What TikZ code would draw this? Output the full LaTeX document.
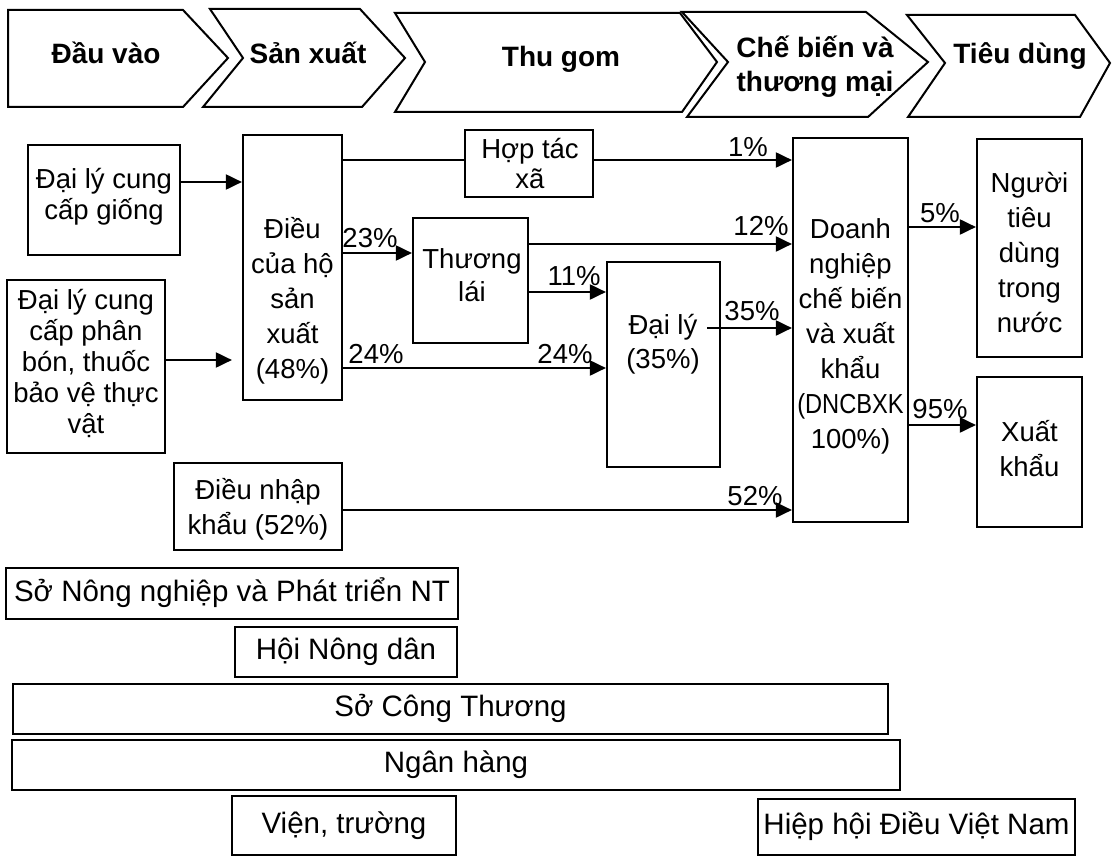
\documentclass[tikz,border=0pt]{standalone}
\usepackage{fontspec}
\usepackage{graphicx}
\setmainfont{Liberation Sans}
\usetikzlibrary{arrows.meta}
\begin{document}
\begin{tikzpicture}[x=1pt,y=-1pt,
  box/.style={draw, line width=2.2pt, inner sep=0pt},
  txt/.style={align=center, inner sep=0pt, font=\fontsize{27.5}{#1}\selectfont},
  txt/.default=35,
  btxt/.style={inner sep=0pt, font=\fontsize{29.5}{35}\selectfont, text height=21pt, text depth=6pt},
  ttl/.style={align=center, inner sep=0pt, font=\bfseries\fontsize{28}{34}\selectfont},
  pct/.style={inner sep=0pt, font=\fontsize{27.5}{33}\selectfont},
  arr/.style={line width=2pt, -{Triangle[length=16pt,width=15pt]}},
  ln/.style={line width=2pt},
  chev/.style={draw, line width=2pt, line join=miter}]
\useasboundingbox (0,0) rectangle (1115,856);
\fill[white] (0,0) rectangle (1115,856);

% chevrons
\draw[chev] (8,10) -- (183,10) -- (228,58) -- (183,107) -- (8,107) -- cycle;
\node[ttl, anchor=base] (t1) at (106,64) {Đầu vào};
\draw[chev] (210,9) -- (360,9) -- (405,58) -- (362,107) -- (203,107) -- (243,58) -- cycle;
\node[ttl, anchor=base] (t2) at (308,64) {Sản xuất};
\draw[chev] (395,13) -- (680,13) -- (717,62) -- (682,112) -- (395,112) -- (425,62) -- cycle;
\node[ttl, anchor=base] (t3) at (561,67) {Thu gom};
\draw[chev] (682,12) -- (866,12) -- (928,62) -- (868,117) -- (687,117) -- (728,62) -- cycle;
\node[ttl] (t4) at (815,68) {\strut Chế biến và\\\strut thương mại};
\draw[chev] (907,15) -- (1075,15) -- (1110,63) -- (1080,117) -- (908,117) -- (945,63) -- cycle;
\node[ttl, anchor=base] (t5) at (1020,64) {Tiêu dùng};

% boxes
\node[box, minimum width=152pt, minimum height=110pt] (giong) at (104,200) {};
\node[txt=31] (giongT) at (104,197.5) {\strut Đại lý cung\\\strut cấp giống};
\node[box, minimum width=158pt, minimum height=173pt] (phanbon) at (86,366.5) {};
\node[txt=31] (phanbonT) at (86,365) {\strut Đại lý cung\\\strut cấp phân\\\strut bón, thuốc\\\strut bảo vệ thực\\\strut vật};
\node[box, minimum width=99pt, minimum height=265pt] (dieu) at (292.5,267.5) {};
\node[txt] (dieuT) at (292.5,301) {\strut Điều\\\strut của hộ\\\strut sản\\\strut xuất\\\strut (48\%)};
\node[box, minimum width=128pt, minimum height=67pt] (htx) at (529,163.5) {};
\node[txt=30] (htxT) at (530,167) {\strut Hợp tác\\\strut xã};
\node[box, minimum width=115pt, minimum height=125pt] (tl) at (470.5,280.5) {};
\node[txt=33] (tlT) at (472,278.5) {\strut Thương\\\strut lái};
\node[box, minimum width=113pt, minimum height=205pt] (daily) at (663.5,364.5) {};
\node[txt=34] (dailyT) at (663,345) {\strut Đại lý\\\strut (35\%)};
\node[box, minimum width=115pt, minimum height=384pt] (dn) at (850.5,330) {};
\node[txt] (dnT) at (850.5,336) {\strut Doanh\\\strut nghiệp\\\strut chế biến\\\strut và xuất\\\strut khẩu\\\strut\scalebox{0.86}[1]{(DNCBXK}\\\strut 100\%)};
\node[box, minimum width=105pt, minimum height=218pt] (ntd) at (1029.5,248) {};
\node[txt] (ntdT) at (1029.5,255) {\strut Người\\\strut tiêu\\\strut dùng\\\strut trong\\\strut nước};
\node[box, minimum width=105pt, minimum height=150pt] (xk) at (1029.5,452) {};
\node[txt] (xkT) at (1029.5,452) {\strut Xuất\\\strut khẩu};
\node[box, minimum width=168pt, minimum height=87pt] (dnk) at (258,506.5) {};
\node[txt] (dnkT) at (258,509.5) {\strut Điều nhập\\\strut khẩu (52\%)};

% bottom bars
\node[box, btxt, minimum width=452pt, minimum height=51pt] (sonn) at (232,593.5) {Sở Nông nghiệp và Phát triển NT};
\node[box, btxt, minimum width=222pt, minimum height=50pt] (hnd) at (346,652) {Hội Nông dân};
\node[box, btxt, minimum width=875pt, minimum height=50pt] (sct) at (450.5,709) {Sở Công Thương};
\node[box, btxt, minimum width=888pt, minimum height=50pt] (nh) at (456,765) {Ngân hàng};
\node[box, btxt, minimum width=224pt, minimum height=59pt] (vt) at (344,825.5) {Viện, trường};
\node[box, btxt, minimum width=317pt, minimum height=56pt] (hh) at (916.5,827) {Hiệp hội Điều Việt Nam};

% connectors
\draw[arr] (giong.east |- 0,182) -- (dieu.west |- 0,182);
\draw[arr] (phanbon.east |- 0,360) -- ([xshift=-10pt]dieu.west |- 0,360);
\draw[ln] (dieu.east |- 0,160) -- (htx.west |- 0,160);
\draw[arr] (htx.east |- 0,160) -- (dn.west |- 0,160);
\draw[arr] (dieu.east |- 0,253) -- (tl.west |- 0,253);
\draw[arr] (tl.east |- 0,244) -- (dn.west |- 0,244);
\draw[arr] (tl.east |- 0,292) -- (daily.west |- 0,292);
\draw[arr] (dieu.east |- 0,368) -- (daily.west |- 0,368);
\coordinate (d35) at (707,328);
\draw[arr] (d35) -- (dn.west |- d35);
\draw[arr] (dnk.east |- 0,510) -- (dn.west |- 0,510);
\draw[arr] (dn.east |- 0,227) -- (ntd.west |- 0,227);
\draw[arr] (dn.east |- 0,425) -- (xk.west |- 0,425);

% percentage labels
\node[pct] (p1) at (748,147) {1\%};
\node[pct] (p12) at (761,226) {12\%};
\node[pct] (p23) at (370,238) {23\%};
\node[pct] (p11) at (574,276) {11\%};
\node[pct] (p24a) at (376,354) {24\%};
\node[pct] (p24b) at (565,354) {24\%};
\node[pct] (p35) at (752,311) {35\%};
\node[pct] (p52) at (755,496) {52\%};
\node[pct] (p5) at (940,213) {5\%};
\node[pct] (p95) at (940,409) {95\%};
\end{tikzpicture}
\end{document}
